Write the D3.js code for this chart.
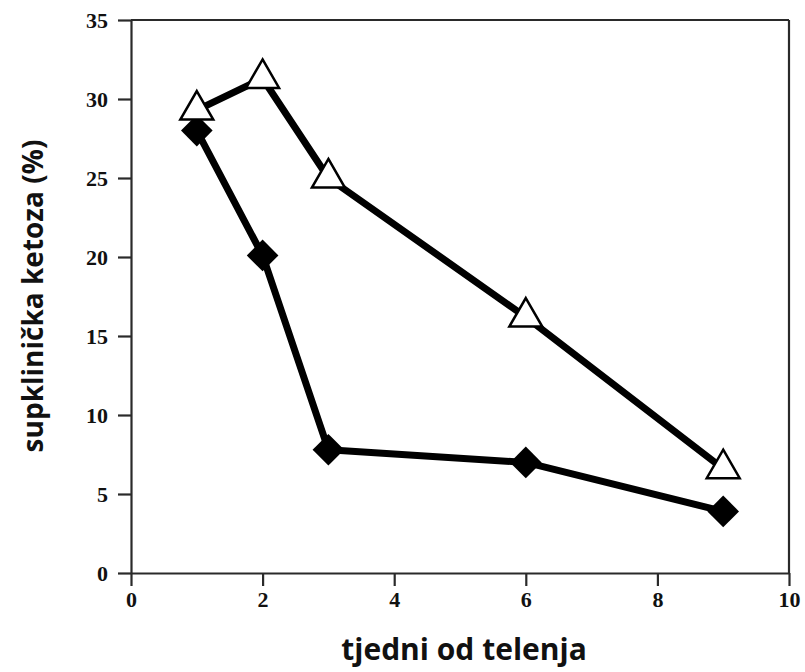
<!DOCTYPE html>
<html>
<head>
<meta charset="utf-8">
<script src="https://cdn.jsdelivr.net/npm/d3@7"></script>
<style>
  body { margin: 0; background: #fff; }
  .axis text { font-family: "Liberation Serif", "Times New Roman", serif; font-weight: bold; font-size: 22px; fill: #111; }
  .axis path, .axis line { stroke: #2a2a2a; stroke-width: 2.2px; }
  .title { font-family: "Open Sans", "Noto Sans", sans-serif; font-weight: bold; fill: #111; }
</style>
</head>
<body>
<svg id="chart"></svg>
<script>
const weeks = [1, 2, 3, 6, 9];
const diamondValues = [28, 20.1, 7.8, 7, 3.9];
const triangleValues = [29.3, 31.3, 25, 16.2, 6.6];
const xTicks = [0, 2, 4, 6, 8, 10];
const yTicks = [0, 5, 10, 15, 20, 25, 30, 35];

const width = 805;
const height = 672;
const margin = { top: 20, right: 16, bottom: 99, left: 131 };
const innerW = width - margin.left - margin.right;
const innerH = height - margin.top - margin.bottom;

const svg = d3.select('#chart')
  .attr('width', width)
  .attr('height', height);

const g = svg.append('g')
  .attr('transform', `translate(${margin.left},${margin.top})`);

const x = d3.scaleLinear().domain([0, 10]).range([0, innerW]);
const y = d3.scaleLinear().domain([0, 35]).range([innerH, 0]);

// frame on top and right
g.append('line')
  .attr('x1', 0).attr('x2', innerW).attr('y1', 0).attr('y2', 0)
  .attr('stroke', '#2a2a2a').attr('stroke-width', 2.2);
g.append('line')
  .attr('x1', innerW).attr('x2', innerW).attr('y1', 0).attr('y2', innerH)
  .attr('stroke', '#2a2a2a').attr('stroke-width', 2.2);

g.append('g')
  .attr('class', 'axis')
  .attr('transform', `translate(0,${innerH})`)
  .call(d3.axisBottom(x).tickValues(xTicks).tickSize(13).tickSizeOuter(0).tickPadding(5));

g.append('g')
  .attr('class', 'axis')
  .call(d3.axisLeft(y).tickValues(yTicks).tickSize(13).tickSizeOuter(0).tickPadding(10));

const line = d3.line()
  .x(d => x(d[0]))
  .y(d => y(d[1]));

const diamonds = weeks.map((w, i) => [w, diamondValues[i]]);
const triangles = weeks.map((w, i) => [w, triangleValues[i]]);

g.append('path')
  .datum(diamonds)
  .attr('d', line)
  .attr('fill', 'none')
  .attr('stroke', '#000')
  .attr('stroke-width', 7)
  .attr('stroke-linejoin', 'round');

g.selectAll('.diamond')
  .data(diamonds)
  .enter()
  .append('path')
  .attr('class', 'diamond')
  .attr('d', d3.symbol().type(d3.symbolSquare).size(500))
  .attr('transform', d => `translate(${x(d[0])},${y(d[1])}) rotate(45)`)
  .attr('fill', '#000');

g.append('path')
  .datum(triangles)
  .attr('d', line)
  .attr('fill', 'none')
  .attr('stroke', '#000')
  .attr('stroke-width', 7)
  .attr('stroke-linejoin', 'round');

g.selectAll('.triangle')
  .data(triangles)
  .enter()
  .append('path')
  .attr('class', 'triangle')
  .attr('d', d3.symbol().type(d3.symbolTriangle).size(470))
  .attr('transform', d => `translate(${x(d[0])},${y(d[1])})`)
  .attr('fill', '#fff')
  .attr('stroke', '#000')
  .attr('stroke-width', 2.5);

svg.append('text')
  .attr('class', 'title')
  .attr('x', 464)
  .attr('y', 660)
  .attr('text-anchor', 'middle')
  .style('font-size', '30px')
  .text('tjedni od telenja');

svg.append('text')
  .attr('class', 'title')
  .attr('transform', 'translate(43,296) rotate(-90)')
  .attr('text-anchor', 'middle')
  .style('font-size', '28px')
  .text('supklinička ketoza (%)');
</script>
</body>
</html>
